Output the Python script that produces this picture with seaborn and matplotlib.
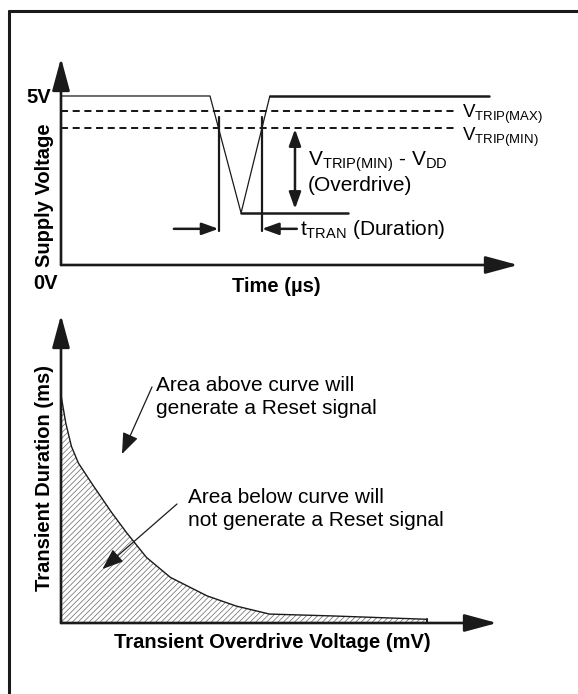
import numpy as np
import matplotlib
matplotlib.use("Agg")
import matplotlib.pyplot as plt
from matplotlib.patches import FancyArrowPatch
from matplotlib.lines import Line2D
import seaborn as sns

# ---------------- data ----------------
# Top panel: supply-voltage transient (time in arbitrary µs units, volts)
time_us = [0.0, 32.6, 39.4, 45.7]
supply_v = [5.0, 5.0, 1.54, 5.0]
recovered_t = [45.7, 93.7]
recovered_v = [5.0, 5.0]
floor_t = [39.4, 62.8]
floor_v = [1.54, 1.54]
trip_span_t = [0.0, 86.7]
vtrip_max = 4.56
vtrip_min = 4.05

# Bottom panel: transient duration vs. overdrive (arbitrary units)
overdrive_mv = [0, 1.1, 2.4, 4.0, 7.4, 11.6, 15.0, 19.6, 25.1, 33.5, 40.2, 47.8, 62.1, 84.0]
duration_ms = [74.0, 64.9, 57.3, 51.9, 44.6, 35.9, 29.4, 21.3, 14.8, 8.8, 5.5, 2.9, 2.3, 1.2]

# ---------------- style ----------------
sns.set_theme(style="white")
plt.rcParams["font.family"] = ["Liberation Sans", "DejaVu Sans"]
plt.rcParams["text.color"] = "black"
plt.rcParams["mathtext.fontset"] = "custom"
plt.rcParams["mathtext.rm"] = "Liberation Sans"
plt.rcParams["mathtext.it"] = "Liberation Sans:italic"
plt.rcParams["mathtext.bf"] = "Liberation Sans:bold"
plt.rcParams["hatch.linewidth"] = 0.5

W, H = 578, 694
fig = plt.figure(figsize=(W / 100, H / 100), dpi=100)
fig.patch.set_facecolor("white")


def P(x, y):
    return (x / W, 1 - y / H)


def rect(x0, y_top, x1, y_bot):
    return [x0 / W, 1 - y_bot / H, (x1 - x0) / W, (y_bot - y_top) / H]


# outer frame (left and top edges)
fig.add_artist(Line2D([9 / W, 9 / W], [1 - 11 / H, 0], transform=fig.transFigure, color="k", lw=2.2))
fig.add_artist(Line2D([9 / W, 1], [1 - 11 / H, 1 - 11 / H], transform=fig.transFigure, color="k", lw=2.2))

axis_arrow = dict(arrowstyle="-|>,head_length=20,head_width=5.4", mutation_scale=1,
                  lw=1.9, color="k", shrinkA=0, shrinkB=0)

# ---------------- top panel ----------------
ax1 = fig.add_axes(rect(61, 58, 518, 265))
ax1.set_xlim(0, 100)
ax1.set_ylim(0, 6.124)
ax1.axis("off")

sns.lineplot(x=time_us, y=supply_v, ax=ax1, color="k", lw=0.9, sort=False, estimator=None)
sns.lineplot(x=recovered_t, y=recovered_v, ax=ax1, color="k", lw=1.8, sort=False, estimator=None)
sns.lineplot(x=floor_t, y=floor_v, ax=ax1, color="k", lw=1.8, sort=False, estimator=None)
for lvl in (vtrip_max, vtrip_min):
    sns.lineplot(x=trip_span_t, y=[lvl, lvl], ax=ax1, color="k", lw=1.45,
                 linestyle=(0, (3.5, 2.3)), sort=False, estimator=None)

# crossings of the waveform with VTRIP(MIN)
t_down = float(np.interp(vtrip_min, [supply_v[2], supply_v[1]], [time_us[2], time_us[1]]))
t_up = float(np.interp(vtrip_min, [supply_v[2], supply_v[3]], [time_us[2], time_us[3]]))
for tc in (t_down, t_up):
    ax1.plot([tc, tc], [1.0, 4.38], color="k", lw=1.6)

small_arrow = dict(arrowstyle="-|>,head_length=10,head_width=3.6", mutation_scale=1,
                   lw=1.8, color="k", shrinkA=0, shrinkB=0)
ax1.annotate("", xy=(t_down, 1.07), xytext=(24.7, 1.07), arrowprops=small_arrow, annotation_clip=False)
ax1.annotate("", xy=(t_up, 1.07), xytext=(51.6, 1.07), arrowprops=small_arrow, annotation_clip=False)
ax1.annotate("", xy=(51.2, 4.02), xytext=(51.2, 1.66),
             arrowprops=dict(arrowstyle="<|-|>,head_length=10,head_width=3.6", mutation_scale=1,
                             lw=1.8, color="k", shrinkA=0, shrinkB=0), annotation_clip=False)

ax1.annotate("", xy=(0, 1), xytext=(0, 0), xycoords="axes fraction", arrowprops=axis_arrow,
             annotation_clip=False)
ax1.annotate("", xy=(1, 0), xytext=(0, 0), xycoords="axes fraction", arrowprops=axis_arrow,
             annotation_clip=False)

FS = 14.5
FT = 15
fig.text(*P(51, 103), "5V", ha="right", va="baseline", fontsize=FS, fontweight="bold")
fig.text(*P(46, 289), "0V", ha="center", va="baseline", fontsize=FS, fontweight="bold")
fig.text(*P(44, 195), "Supply Voltage", ha="center", va="center", rotation=90,
         fontsize=FS, fontweight="bold")
fig.text(*P(276, 292), "Time (µs)", ha="center", va="baseline", fontsize=FS, fontweight="bold")

fig.text(*P(462, 117.5), r"V$_{\mathrm{TRIP(MAX)}}$", ha="left", va="baseline", fontsize=13.5)
fig.text(*P(462, 141), r"V$_{\mathrm{TRIP(MIN)}}$", ha="left", va="baseline", fontsize=13.5)
fig.text(*P(308, 166), r"V$_{\mathrm{TRIP(MIN)}}$ - V$_{\mathrm{DD}}$", ha="left", va="baseline",
         fontsize=FT)
fig.text(*P(308, 191), "(Overdrive)", ha="left", va="baseline", fontsize=FT)
fig.text(*P(300, 235), r"t$_{\mathrm{TRAN}}$ (Duration)", ha="left", va="baseline", fontsize=FT)

# ---------------- bottom panel ----------------
ax2 = fig.add_axes(rect(61, 315, 497, 623))
ax2.set_xlim(0, 100)
ax2.set_ylim(0, 100)
ax2.axis("off")

ax2.fill_between(overdrive_mv, duration_ms, 0, facecolor="white", edgecolor="#666666",
                 hatch="//////", linewidth=0)
sns.lineplot(x=overdrive_mv, y=duration_ms, ax=ax2, color="k", lw=1.0, sort=False, estimator=None)
ax2.plot([overdrive_mv[-1], overdrive_mv[-1]], [0, duration_ms[-1]], color="k", lw=1.4)

ax2.annotate("", xy=(0, 1), xytext=(0, 0), xycoords="axes fraction", arrowprops=axis_arrow,
             annotation_clip=False)
ax2.annotate("", xy=(1, 0), xytext=(0, 0), xycoords="axes fraction", arrowprops=axis_arrow,
             annotation_clip=False)

thin_arrow = dict(arrowstyle="-|>,head_length=13,head_width=5", mutation_scale=1,
                  lw=0.9, color="k", shrinkA=0, shrinkB=0)
fig.add_artist(FancyArrowPatch(P(152, 387), P(122, 454), transform=fig.transFigure, **thin_arrow))
fig.add_artist(FancyArrowPatch(P(177, 504), P(102.5, 569), transform=fig.transFigure, **thin_arrow))

fig.text(*P(156, 391), "Area above curve will", ha="left", va="baseline", fontsize=FT)
fig.text(*P(156, 414), "generate a Reset signal", ha="left", va="baseline", fontsize=FT)
fig.text(*P(188, 503), "Area below curve will", ha="left", va="baseline", fontsize=FT)
fig.text(*P(188, 526), "not generate a Reset signal", ha="left", va="baseline", fontsize=FT)

fig.text(*P(45, 478), "Transient Duration (ms)", ha="center", va="center", rotation=90,
         fontsize=FS, fontweight="bold")
fig.text(*P(272, 648), "Transient Overdrive Voltage (mV)", ha="center", va="baseline",
         fontsize=FS, fontweight="bold")

fig.savefig("out.png", dpi=100, facecolor="white")
